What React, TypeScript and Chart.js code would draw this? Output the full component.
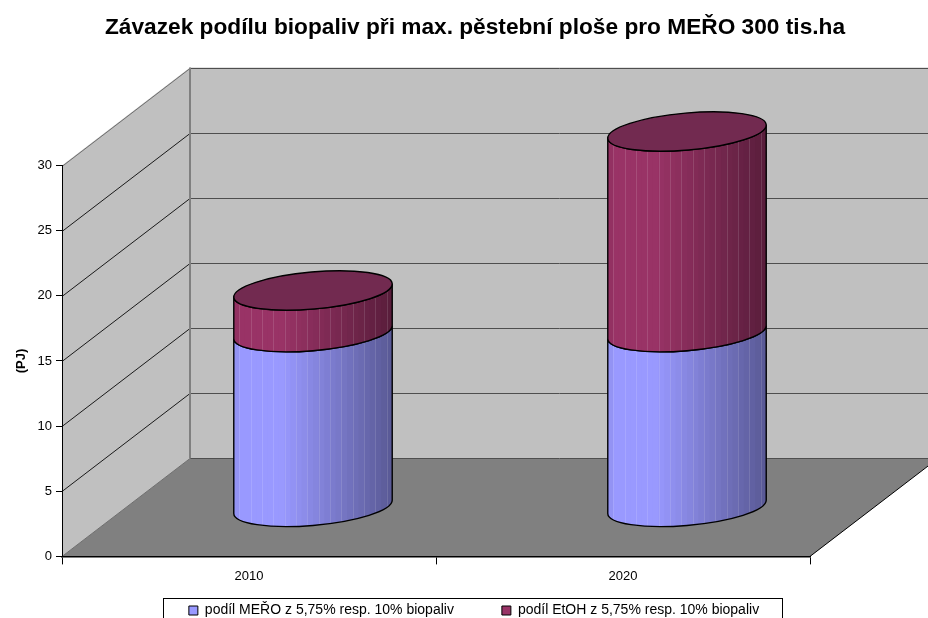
import React, { useEffect, useRef } from "react";
import { Chart, registerables } from "chart.js";

Chart.register(...registerables);

const chartTitle = "Závazek podílu biopaliv při max. pěstební ploše pro MEŘO 300 tis.ha";
const axisTitle = "(PJ)";
const categories = ["2010", "2020"];
const meroLabel = "podíl MEŘO z 5,75% resp. 10% biopaliv";
const etohLabel = "podíl EtOH z 5,75% resp. 10% biopaliv";
const meroValues = [13.45, 13.45];
const etohValues = [3.2, 15.4];
const BLUE = [153, 153, 255];
const MAROON = [153, 51, 102];
const rgb = (c: number[], f = 1) => `rgb(${c.map((v) => Math.round(v * f)).join(",")})`;

const DX = 128;
const DY = 98;
const THETA = (-5 * Math.PI) / 180;
const RB = 18.5;

function shade(t: number) {
  if (t < 0.05) return 0.94 + t;
  if (t < 0.3) return 1;
  return 1 - ((t - 0.3) / 0.7) * 0.42;
}

function side(ctx: any, cx: number, y0: number, y1: number, a: number, col: number[]) {
  const t0 = Math.atan2((RB / a) * -Math.tan(THETA), 1);
  ctx.save();
  ctx.beginPath();
  ctx.ellipse(cx, y0, a, RB, THETA, t0, t0 + Math.PI, false);
  ctx.ellipse(cx, y1, a, RB, THETA, t0 + Math.PI, t0, true);
  ctx.closePath();
  ctx.save();
  ctx.clip();
  const n = 28;
  const w = (2 * a) / n;
  for (let i = 0; i < n; i++) {
    ctx.fillStyle = rgb(col, shade((i + 0.5) / n));
    ctx.fillRect(cx - a + i * w, y1 - 40, w + 1, y0 - y1 + 80);
  }
  ctx.strokeStyle = "rgba(255,255,255,0.13)";
  ctx.lineWidth = 1;
  for (let i = 1; i < n; i += 2) {
    const x = Math.round(cx - a + i * w) + 0.5;
    ctx.beginPath();
    ctx.moveTo(x, y1 - 40);
    ctx.lineTo(x, y0 + 40);
    ctx.stroke();
  }
  ctx.restore();
  ctx.strokeStyle = "#000";
  ctx.lineWidth = 1.4;
  ctx.beginPath();
  ctx.ellipse(cx, y0, a, RB, THETA, t0, t0 + Math.PI, false);
  ctx.ellipse(cx, y1, a, RB, THETA, t0 + Math.PI, t0, true);
  ctx.closePath();
  ctx.stroke();
  ctx.restore();
}

const scenePlugin = {
  id: "scene",
  beforeUpdate(chart: any) {
    if (chart.legend) chart.legend.isHorizontal = () => true;
  },
  afterLayout(chart: any) {
    const t = chart.titleBlock;
    t.left = 0;
    t.right = 950;
    const l = chart.legend;
    l.left = 0;
    l.right = 948;
    l.top = 555.5;
    l.bottom = 640;
  },
  beforeDraw(chart: any) {
    const { ctx, chartArea: a, scales } = chart;
    const yS = scales.y;
    ctx.save();
    ctx.fillStyle = "#fff";
    ctx.fillRect(0, 0, chart.width, chart.height);
    const b = yS.getPixelForValue(0);
    const tp = yS.getPixelForValue(30);
    ctx.fillStyle = "#C0C0C0";
    ctx.fillRect(a.left + DX, tp - DY, a.right - a.left, b - tp);
    ctx.beginPath();
    ctx.moveTo(a.left, b);
    ctx.lineTo(a.left + DX, b - DY);
    ctx.lineTo(a.left + DX, tp - DY);
    ctx.lineTo(a.left, tp);
    ctx.closePath();
    ctx.fill();
    ctx.fillStyle = "#808080";
    ctx.beginPath();
    ctx.moveTo(a.left, b);
    ctx.lineTo(a.right, b);
    ctx.lineTo(a.right + DX, b - DY);
    ctx.lineTo(a.left + DX, b - DY);
    ctx.closePath();
    ctx.fill();
    ctx.lineWidth = 1;
    yS.ticks.forEach((tick: any) => {
      const y = Math.round(yS.getPixelForValue(tick.value)) + 0.5;
      const edge = tick.value === 0 || tick.value === 30;
      ctx.strokeStyle = edge ? "#6e6e6e" : "#1a1a1a";
      ctx.beginPath();
      ctx.moveTo(a.left, y);
      ctx.lineTo(a.left + DX, y - DY);
      ctx.stroke();
      ctx.strokeStyle = "#4e4e4e";
      ctx.beginPath();
      ctx.moveTo(a.left + DX, y - DY);
      ctx.lineTo(a.right + DX, y - DY);
      ctx.stroke();
    });
    ctx.strokeStyle = "#808080";
    ctx.lineWidth = 2;
    ctx.beginPath();
    ctx.moveTo(a.left + DX, tp - DY);
    ctx.lineTo(a.left + DX, b - DY);
    ctx.stroke();
    ctx.lineWidth = 1;
    ctx.strokeStyle = "#000";
    ctx.beginPath();
    ctx.moveTo(a.right, b);
    ctx.lineTo(a.right + DX, b - DY);
    ctx.stroke();
    ctx.restore();
  },
  beforeDatasetsDraw(chart: any) {
    const { ctx } = chart;
    const cols = [BLUE, MAROON];
    ctx.save();
    categories.forEach((_, i) => {
      let topY = 0;
      let cx = 0;
      let ra = 0;
      chart.data.datasets.forEach((_d: any, di: number) => {
        const el = chart.getDatasetMeta(di).data[i];
        cx = el.x + DX / 2;
        ra = el.width / 2 + 0.5;
        topY = el.y - DY / 2;
        side(ctx, cx, el.base - DY / 2, topY, ra, cols[di]);
      });
      ctx.beginPath();
      ctx.ellipse(cx, topY, ra, RB, THETA, 0, Math.PI * 2);
      ctx.fillStyle = "#722A50";
      ctx.fill();
      ctx.strokeStyle = "#000";
      ctx.lineWidth = 1.4;
      ctx.stroke();
    });
    ctx.restore();
    return false;
  },
  afterDraw(chart: any) {
    const { ctx } = chart;
    ctx.save();
    ctx.strokeStyle = "#000";
    ctx.lineWidth = 1;
    ctx.strokeRect(163.5, 598.5, 619, 40);
    ctx.restore();
  },
};

export default function App() {
  const ref = useRef<HTMLCanvasElement>(null);
  useEffect(() => {
    document.body.style.margin = "0";
    document.body.style.overflow = "hidden";
    Chart.defaults.font.family = "'Liberation Sans', Arial, sans-serif";
    Chart.defaults.color = "#000";
    const chart = new Chart(ref.current as HTMLCanvasElement, {
      type: "bar",
      data: {
        labels: categories,
        datasets: [
          { label: meroLabel, data: meroValues, backgroundColor: rgb(BLUE), borderColor: "#000", borderWidth: 1 },
          { label: etohLabel, data: etohValues, backgroundColor: rgb(MAROON), borderColor: "#000", borderWidth: 1 },
        ],
      },
      plugins: [scenePlugin],
      options: {
        animation: false,
        responsive: false,
        barPercentage: 0.4225,
        categoryPercentage: 1,
        layout: { padding: { top: 0, right: 118, bottom: 30, left: 0 } },
        plugins: {
          title: {
            display: true,
            text: chartTitle,
            font: { size: 22.7, weight: "bold" },
            color: "#000",
            padding: { top: 14, bottom: 124.3 },
          },
          legend: {
            display: true,
            position: "chartArea",
            labels: { boxWidth: 9, boxHeight: 9, padding: 48, font: { size: 14 }, color: "#000" },
          },
          tooltip: { enabled: false },
        },
        scales: {
          x: {
            stacked: true,
            grid: { drawOnChartArea: false, drawTicks: true, tickLength: 8, offset: true, color: "#000" },
            border: { display: true, color: "#000", width: 1.5 },
            ticks: { padding: 4, font: { size: 13 }, color: "#000", maxRotation: 0 },
          },
          y: {
            stacked: true,
            min: 0,
            max: 30,
            afterFit: (s: any) => {
              s.width = 62;
            },
            grid: { drawOnChartArea: false, drawTicks: true, tickLength: 6, color: "#000" },
            border: { display: true, color: "#000", width: 1 },
            ticks: { stepSize: 5, padding: 4, font: { size: 13 }, color: "#000" },
            title: { display: true, text: axisTitle, font: { size: 13, weight: "bold" }, color: "#000", padding: { top: 14, bottom: 0 } },
          },
        },
      },
    } as any);
    return () => chart.destroy();
  }, []);
  return <canvas ref={ref} width={928} height={618} style={{ display: "block", width: 928, height: 618 }} />;
}
